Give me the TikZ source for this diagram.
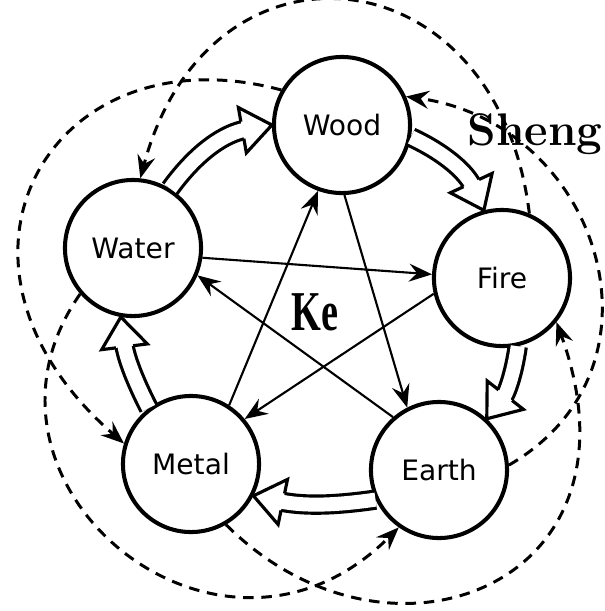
\documentclass[tikz,border=0pt]{standalone}
\usepackage{fontspec}
\newfontfamily\elemfont{DejaVu Sans}
\newfontfamily\kefont{Liberation Serif}
\usetikzlibrary{arrows.meta,decorations.markings}
\tikzset{
  >={Stealth[length=2.3mm,width=1.8mm,inset=0.8mm]},
  % elementen
  el/.style={circle,draw=black,fill=white,line width=1.15pt,inner sep=0pt,
             minimum size=1.36cm,font=\elemfont\fontsize{8}{8}\selectfont},
  % ke: tunna pilar genom stjärnan
  ke/.style={->,draw=black,line width=0.6pt},
  % sheng: ihåliga pilar runt om
  sheng/.style={
    preaction={draw=black,line width=0.9pt,double=white,double distance=1.4mm,
               shorten >=2.7mm},
    postaction={decorate,decoration={markings,mark=at position 1 with {
      \draw[line width=0.9pt,fill=white,line join=miter]
        (-3mm,0.86mm) -- (-3mm,2.3mm) -- (0,0) -- (-3mm,-2.3mm) -- (-3mm,-0.86mm);}}}},
  % streckade bågar utanför
  bak/.style={->,draw=black,line width=0.85pt,dash pattern=on 3pt off 2.2pt},
  lbl/.style={inner sep=0pt},
}
\begin{document}
\begin{tikzpicture}[x=0.01cm,y=-0.01cm]
\useasboundingbox (0,0) rectangle (605,611);
  \node[el] (wood) at (342,125) {Wood};
  \node[el] (fire) at (502,278) {Fire};
  \node[el] (earth) at (439,470) {Earth};
  \node[el] (metal) at (191,464) {Metal};
  \node[el] (water) at (133,248) {Water};
  \node[lbl,font=\bfseries\fontsize{13}{13}\selectfont,anchor=west] (sheng) at (467,134) {Sheng};
  \node[lbl,font=\kefont\bfseries\fontsize{16}{16}\selectfont] (ke) at (315,312) {\scalebox{0.68}[1]{Ke}};
  % ke
  \draw[ke] (wood.-88) -- (earth.117);
  \draw[ke] (water.-8) -- (fire.177);
  \draw[ke] (fire.193) -- (metal.40);
  \draw[ke] (metal.57) -- (wood.250);
  \draw[ke] (earth.131) -- (water.-23);
  % sheng
  \path[sheng] (water.58) to[bend left=22] (wood.180);
  \path[sheng] (wood.-10) to[bend left=20] (fire.105);
  \path[sheng] (fire.-77) to[bend left=15] (earth.47);
  \path[sheng] (earth.-155) to[bend left=10] (metal.-27);
  \path[sheng] (metal.127) to[bend left=10] (water.-100);
  % bågar
  \draw[bak] (wood.150) to[out=165,in=139,out distance=2.4cm,in distance=2.75cm] (metal.163);
  \draw[bak] (fire.67) to[out=97,in=75,out distance=2.65cm,in distance=2.65cm] (water.84);
  \draw[bak] (earth.4) to[out=30,in=-8,out distance=1.95cm,in distance=1.95cm] (wood.24);
  \draw[bak] (metal.-60) to[out=-45,in=-70,out distance=2.3cm,in distance=2.8cm] (fire.-39);
  \draw[bak] (water.-139) to[out=235,in=-135,out distance=2.3cm,in distance=2.55cm] (earth.235);
\end{tikzpicture}
\end{document}
